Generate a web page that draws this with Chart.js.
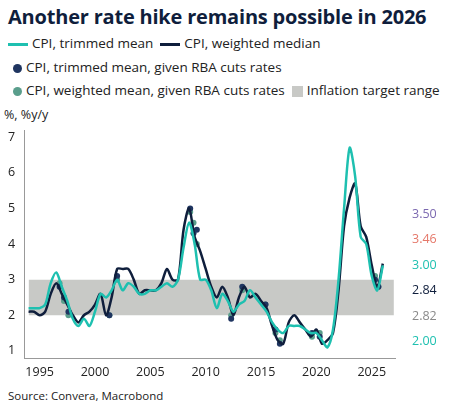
<!DOCTYPE html>
<html>
<head>
<meta charset="utf-8">
<script src="https://cdn.jsdelivr.net/npm/chart.js@4"></script>
<style>
body { margin: 0; width: 453px; height: 416px; background: #fff; font-family: "Open Sans", sans-serif; color: #222; position: relative; overflow: hidden; }
h1 { position: absolute; left: 8px; top: 3px; margin: 0; font-size: 20px; font-weight: 700; color: #0f1e3c; letter-spacing: -0.2px; }
.leg { position: absolute; left: 8px; font-size: 13.5px; color: #222; white-space: nowrap; }
.leg span { display: inline-block; vertical-align: middle; margin-right: 4px; }
.ln { width: 20px; height: 3px; }
.dt { width: 9px; height: 9px; border-radius: 50%; margin-left: 5px; }
.sq { width: 11px; height: 11px; background: #c8c9c6; }
#wrap { position: absolute; left: 0; top: 104px; width: 453px; height: 278px; }
.unit { position: absolute; left: 4px; top: 106px; font-size: 12.5px; }
.src { position: absolute; left: 8px; top: 388px; font-size: 11.5px; }
</style>
</head>
<body>
<h1>Another rate hike remains possible in 2026</h1>
<div class="leg" style="top:34px"><span class="ln" style="background:#1ec0b0"></span>CPI, trimmed mean &nbsp;<span class="ln" style="background:#0f1e3c"></span>CPI, weighted median</div>
<div class="leg" style="top:58px"><span class="dt" style="background:#1f3560"></span>CPI, trimmed mean, given RBA cuts rates</div>
<div class="leg" style="top:81px"><span class="dt" style="background:#5a9e8c"></span>CPI, weighted mean, given RBA cuts rates &nbsp;<span class="sq"></span>Inflation target range</div>
<div class="unit">%, %y/y</div>
<div id="wrap"><canvas id="c"></canvas></div>
<div class="src">Source: Convera, Macrobond</div>
<script>
// half-yearly observations
const years = [];
for (let y = 1994; y <= 2026; y += 0.5) years.push(y);

const trimmedMean = [2.2,2.2,2.2,2.3,2.9,3.2,2.8,2.4,1.9,1.7,1.9,1.7,2.1,2.6,2.5,2.7,3.0,2.7,2.9,2.8,2.6,2.6,2.7,2.7,2.8,2.9,2.8,3.0,3.9,4.6,4.0,3.0,3.0,2.7,2.2,2.6,2.4,2.1,2.3,2.4,2.7,2.5,2.3,2.1,1.8,1.6,1.5,1.7,1.7,1.7,1.6,1.5,1.5,1.3,1.1,1.6,3.0,5.0,6.7,5.9,4.2,4.0,3.1,2.7,3.4];
const weightedMedian = [2.1,2.1,2.0,2.1,2.6,2.9,2.6,2.3,2.0,1.8,2.0,2.1,2.3,2.6,2.0,2.5,3.3,3.3,3.3,3.0,2.6,2.7,2.7,2.7,2.9,3.3,3.0,3.0,4.4,5.0,4.2,3.8,3.3,2.8,2.5,2.8,2.5,2.0,2.5,2.8,2.5,2.6,2.4,2.2,1.7,1.3,1.2,1.8,2.0,1.8,1.6,1.4,1.6,1.2,1.3,1.5,2.7,4.5,5.3,5.7,4.5,4.2,3.4,2.8,3.45];

const dotYears =    [1996.8,1997.2,1997.6,2001.3,2002.0,2008.6,2008.9,2009.2,2012.3,2013.3,2015.4,2016.3,2016.7,2019.6,2020.3,2025.3,2025.6];
const dotTrimmed =  [2.8,   2.5,   2.1,   2.0,   3.1,   5.0,   4.3,   4.4,   1.9,   2.8,   2.3,   1.6,   1.2,   1.5,   1.4,   3.0,   2.8];
const dotWeighted = [2.9,   2.4,   2.0,   2.0,   3.0,   4.9,   4.6,   4.0,   2.0,   2.7,   2.3,   1.5,   1.3,   1.4,   1.5,   3.1,   2.8];

const targetLow = 2, targetHigh = 3;
const xTicks = [1995, 2000, 2005, 2010, 2015, 2020, 2025];
const yTicks = [1, 2, 3, 4, 5, 6, 7];
const sideLabels = ['3.50', '3.46', '3.00', '2.84', '2.82', '2.00'];
const sideColors = ['#7b68b0', '#e5786a', '#1ec0b0', '#0f1e3c', '#8a8a8a', '#1ec0b0'];

const pts = arr => arr.map((v, i) => ({x: years[i], y: v}));
const dots = arr => arr.map((v, i) => ({x: dotYears[i], y: v}));

const sideText = {
  id: 'sideText',
  afterDraw(chart) {
    const ctx = chart.ctx;
    ctx.save();
    ctx.font = '12.5px "Open Sans"';
    ctx.textBaseline = 'middle';
    sideLabels.forEach((t, i) => {
      ctx.fillStyle = sideColors[i];
      ctx.fillText(t, 412, 110 + i * 25.5);
    });
    ctx.restore();
  }
};

new Chart(document.getElementById('c'), {
  type: 'line',
  data: {
    datasets: [
      { data: dots(dotWeighted), type: 'scatter', backgroundColor: '#5a9e8c', borderWidth: 0, pointRadius: 3, order: 5 },
      { data: dots(dotTrimmed), type: 'scatter', backgroundColor: '#1f3560', borderWidth: 0, pointRadius: 3, order: 4 },
      { data: pts(weightedMedian), borderColor: '#0f1e3c', borderWidth: 2.5, pointRadius: 0, tension: 0.3, order: 2 },
      { data: pts(trimmedMean), borderColor: '#1ec0b0', borderWidth: 2.5, pointRadius: 0, tension: 0.3, order: 1 },
      { data: [{x: 1994, y: targetLow}, {x: 2027, y: targetLow}], borderWidth: 0, pointRadius: 0, fill: false, order: 10 },
      { data: [{x: 1994, y: targetHigh}, {x: 2027, y: targetHigh}], borderWidth: 0, pointRadius: 0, fill: '-1', backgroundColor: '#c8c9c6', order: 9 }
    ]
  },
  options: {
    animation: false,
    responsive: true,
    maintainAspectRatio: false,
    layout: { padding: { left: 4, right: 58, top: 26, bottom: 0 } },
    plugins: { legend: { display: false }, tooltip: { enabled: false } },
    scales: {
      x: {
        type: 'linear', min: 1993.6, max: 2027.1,
        afterBuildTicks: s => { s.ticks = xTicks.map(v => ({value: v})); },
        grid: { display: false, drawTicks: true, tickLength: 5, color: '#888' },
        border: { color: '#999' },
        ticks: { color: '#222', font: { size: 12.5, family: 'Open Sans' }, padding: 2, callback: v => String(v) }
      },
      y: {
        min: 0.8, max: 7.2,
        afterBuildTicks: s => { s.ticks = yTicks.map(v => ({value: v})); },
        grid: { display: false, tickLength: 5 },
        border: { color: '#999' },
        ticks: { color: '#222', font: { size: 12.5, family: 'Open Sans' }, padding: 4 }
      }
    }
  },
  plugins: [sideText]
});
</script>
</body>
</html>
